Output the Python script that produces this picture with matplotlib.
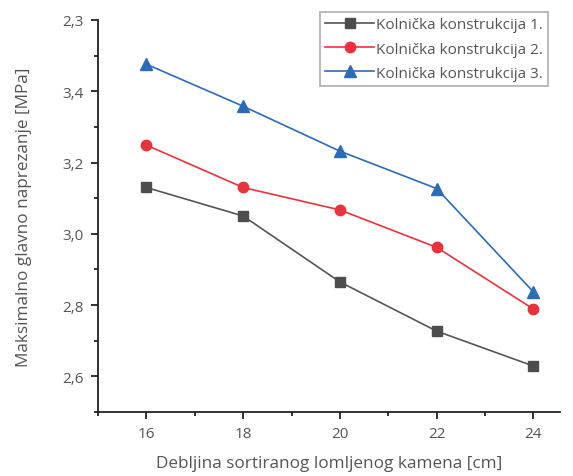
import matplotlib
matplotlib.use("Agg")
import matplotlib.pyplot as plt
from matplotlib.ticker import FixedLocator

thickness = [16, 18, 20, 22, 24]
series1 = [3.130, 3.050, 2.865, 2.727, 2.629]
series2 = [3.249, 3.130, 3.067, 2.962, 2.789]
series3 = [3.476, 3.358, 3.232, 3.127, 2.837]
labels = ["Kolnička konstrukcija 1.", "Kolnička konstrukcija 2.", "Kolnička konstrukcija 3."]
ytick_vals = [2.6, 2.8, 3.0, 3.2, 3.4, 3.6]
ytick_labels = ["2,6", "2,8", "3,0", "3,2", "3,4", "2,3"]
xtick_vals = [16, 18, 20, 22, 24]

plt.rcParams['font.family'] = ['Open Sans', 'DejaVu Sans']
textc = "#555555"

fig = plt.figure(figsize=(5.73, 4.77), dpi=100)
ax = fig.add_axes([98/573, 1-413/477, (560-98)/573, (413-21)/477])

ax.plot(thickness, series1, color="#555555", lw=1.2, marker="s", ms=6.5,
        markerfacecolor="#4d4d4d", markeredgecolor="#4d4d4d", label=labels[0])
ax.plot(thickness, series2, color="#e8333c", lw=1.2, marker="o", ms=7.5,
        markerfacecolor="#e8333c", markeredgecolor="#e8333c", label=labels[1])
ax.plot(thickness, series3, color="#2b6cb8", lw=1.2, marker="^", ms=8,
        markerfacecolor="#2b6cb8", markeredgecolor="#2b6cb8", label=labels[2])

ax.set_xlim(15, 24.55)
ax.set_ylim(2.5, 3.6)
ax.set_xticks(xtick_vals)
ax.set_xticklabels([str(v) for v in xtick_vals])
ax.xaxis.set_minor_locator(FixedLocator([15, 17, 19, 21, 23]))
ax.set_yticks(ytick_vals)
ax.set_yticklabels(ytick_labels)
ax.yaxis.set_minor_locator(FixedLocator([2.5, 2.7, 2.9, 3.1, 3.3, 3.5]))

for s in ["top", "right"]:
    ax.spines[s].set_visible(False)
for s in ["left", "bottom"]:
    ax.spines[s].set_linewidth(1.3)
    ax.spines[s].set_color("#222222")

ax.tick_params(which="major", direction="out", length=5, width=1.3, color="#222222",
               labelsize=11, labelcolor=textc, pad=5)
ax.tick_params(which="minor", direction="out", length=3, width=1.3, color="#222222")

ax.set_xlabel("Debljina sortiranog lomljenog kamena [cm]", fontsize=12.3, color=textc, labelpad=10)
ax.set_ylabel("Maksimalno glavno naprezanje [MPa]", fontsize=12.3, color=textc, labelpad=22)

leg = ax.legend(loc="upper right", bbox_to_anchor=((548-98)/462, (413-13)/392), borderaxespad=0,
                fontsize=11, frameon=True, fancybox=False, handlelength=3.2, handletextpad=0.1,
                borderpad=0.35, labelspacing=0.6, labelcolor=textc)
leg.get_frame().set_edgecolor("#999999")
leg.get_frame().set_linewidth(1.2)

fig.savefig("out.png", dpi=100)
